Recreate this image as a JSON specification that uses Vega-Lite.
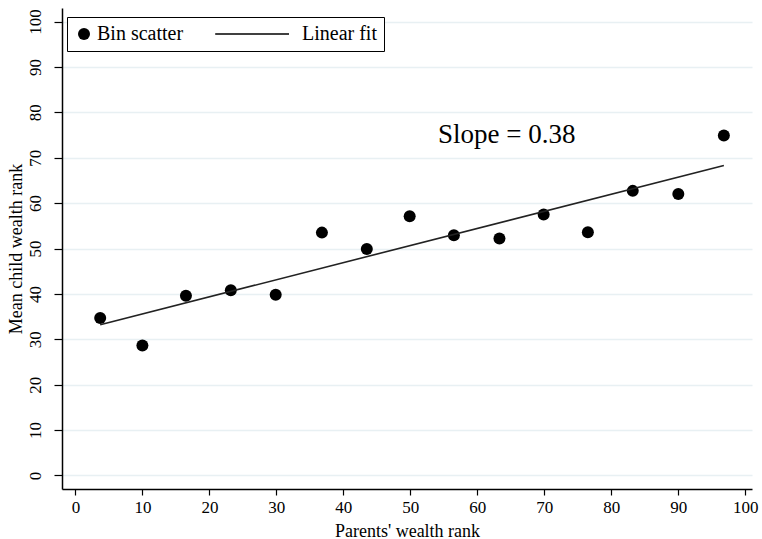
{
  "$schema": "https://vega.github.io/schema/vega-lite/v6.json",
  "width": 690,
  "height": 481,
  "autosize": "none",
  "padding": {"left": 62, "top": 8, "right": 10, "bottom": 50},
  "background": "white",
  "config": {
    "view": {"stroke": null},
    "font": "Liberation Serif, Times New Roman, serif",
    "legend": {"labelFont": "Liberation Serif, Times New Roman, serif"},
    "axis": {
      "labelFont": "Liberation Serif, Times New Roman, serif",
      "titleFont": "Liberation Serif, Times New Roman, serif",
      "labelFontSize": 17,
      "titleFontSize": 18,
      "titleFontWeight": "normal",
      "labelColor": "black",
      "titleColor": "black",
      "domainColor": "black",
      "domainWidth": 1.5,
      "tickColor": "black",
      "tickWidth": 1.2
    }
  },
  "layer": [
    {
      "data": {"values": [
        {"parent": 3.7, "child": 34.7, "series": "Bin scatter"},
        {"parent": 10.0, "child": 28.6, "series": "Bin scatter"},
        {"parent": 16.5, "child": 39.6, "series": "Bin scatter"},
        {"parent": 23.2, "child": 40.8, "series": "Bin scatter"},
        {"parent": 29.9, "child": 39.8, "series": "Bin scatter"},
        {"parent": 36.8, "child": 53.5, "series": "Bin scatter"},
        {"parent": 43.5, "child": 49.9, "series": "Bin scatter"},
        {"parent": 49.9, "child": 57.1, "series": "Bin scatter"},
        {"parent": 56.5, "child": 52.9, "series": "Bin scatter"},
        {"parent": 63.3, "child": 52.2, "series": "Bin scatter"},
        {"parent": 69.9, "child": 57.5, "series": "Bin scatter"},
        {"parent": 76.5, "child": 53.6, "series": "Bin scatter"},
        {"parent": 83.2, "child": 62.7, "series": "Bin scatter"},
        {"parent": 90.0, "child": 62.0, "series": "Bin scatter"},
        {"parent": 96.8, "child": 74.9, "series": "Bin scatter"}
      ]},
      "mark": {"type": "point", "filled": true, "size": 144, "opacity": 1, "color": "black"},
      "encoding": {
        "x": {
          "field": "parent", "type": "quantitative",
          "scale": {"domain": [-2, 101], "nice": false, "zero": false},
          "axis": {
            "title": "Parents' wealth rank",
            "values": [0, 10, 20, 30, 40, 50, 60, 70, 80, 90, 100],
            "grid": false,
            "tickSize": 6,
            "labelPadding": 4,
            "titlePadding": 7
          }
        },
        "y": {
          "field": "child", "type": "quantitative",
          "scale": {"domain": [-3, 103], "nice": false, "zero": false},
          "axis": {
            "title": "Mean child wealth rank",
            "values": [0, 10, 20, 30, 40, 50, 60, 70, 80, 90, 100],
            "grid": true,
            "gridColor": "#e8f0f3",
            "gridWidth": 1.5,
            "tickSize": 8,
            "labelAngle": -90,
            "labelAlign": "center",
            "labelBaseline": "bottom",
            "labelPadding": 10,
            "titlePadding": 1
          }
        },
        "shape": {
          "field": "series", "type": "nominal",
          "scale": {"domain": ["Bin scatter", "Linear fit"], "range": ["circle", "m-12.3,-0.12h12.3v0.24h-12.3z"]},
          "legend": {
            "title": null,
            "orient": "none",
            "legendX": 5,
            "legendY": 9,
            "direction": "horizontal",
            "labelFont": "Liberation Serif, Times New Roman, serif",
            "labelFontSize": 20,
            "labelColor": "black",
            "labelOffset": 3,
            "symbolSize": 144,
            "symbolFillColor": "black",
            "symbolOpacity": 1,
            "columnPadding": 28,
            "padding": 7,
            "strokeColor": "black",
            "fillColor": "white",
            "cornerRadius": 0
          }
        }
      }
    },
    {
      "data": {"values": [
        {"parent": 3.7, "fit": 33.2},
        {"parent": 96.8, "fit": 68.3}
      ]},
      "mark": {"type": "line", "color": "#222222", "strokeWidth": 1.6},
      "encoding": {
        "x": {"field": "parent", "type": "quantitative"},
        "y": {"field": "fit", "type": "quantitative"}
      }
    },
    {
      "data": {"values": [
        {"parent": 64.4, "child": 75.0, "label": "Slope = 0.38"}
      ]},
      "mark": {"type": "text", "font": "Liberation Serif, Times New Roman, serif", "fontSize": 27, "align": "center", "baseline": "middle", "color": "black"},
      "encoding": {
        "x": {"field": "parent", "type": "quantitative"},
        "y": {"field": "child", "type": "quantitative"},
        "text": {"field": "label"}
      }
    }
  ]
}
